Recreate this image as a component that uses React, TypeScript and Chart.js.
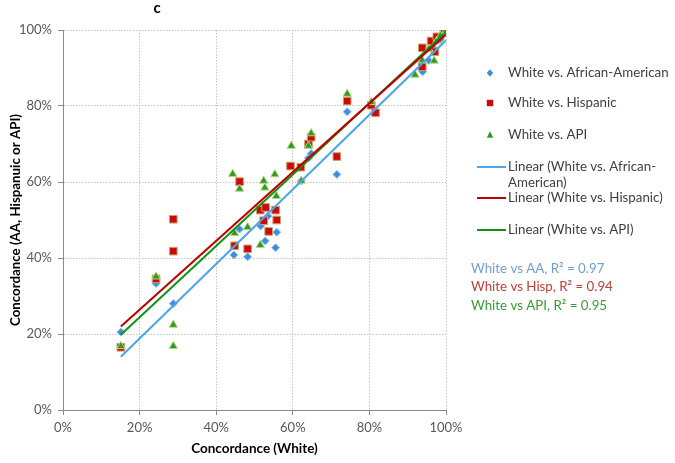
import React, { useEffect, useRef } from "react";
import { Chart, registerables } from "chart.js";
Chart.register(...registerables);

// ---------- data ----------
const chartTitle = "c";
const xAxisTitle = "Concordance (White)";
const yAxisTitle = "Concordance (AA, Hispanuic or API)";

const seriesLabels = ["White vs. African-American", "White vs. Hispanic", "White vs. API"];
const trendLabels = [
  "Linear (White vs. African-American)",
  "Linear (White vs. Hispanic)",
  "Linear (White vs. API)",
];
const rSquaredNotes = ["White vs AA, R\u00B2 = 0.97", "White vs Hisp, R\u00B2 = 0.94", "White vs API, R\u00B2 = 0.95"];

const aaX = [15.1, 24.3, 28.8, 44.6, 46.1, 48.2, 51.6, 52.8, 55.5, 55.8, 53.5, 62.2, 64.1, 64.8, 71.5, 74.2, 80.5, 93.9, 95.5, 97.0, 98.5, 100];
const aaY = [20.5, 33.3, 28.0, 40.8, 47.6, 40.3, 48.4, 44.5, 42.7, 46.8, 51.0, 60.3, 66.3, 67.5, 62.0, 78.5, 80.3, 89.0, 92.0, 95.0, 97.5, 100];

const hispX = [15.1, 24.3, 28.8, 28.8, 44.8, 46.1, 48.2, 51.5, 52.9, 52.4, 53.7, 55.5, 55.8, 59.4, 62.1, 64.1, 64.8, 71.5, 74.2, 80.5, 81.6, 93.8, 93.8, 96.1, 97.1, 97.6, 99.5];
const hispY = [16.5, 34.5, 41.8, 50.2, 43.2, 60.1, 42.4, 52.6, 53.3, 49.8, 47.0, 52.6, 50.0, 64.2, 63.9, 70.0, 71.8, 66.7, 81.3, 80.2, 78.2, 90.3, 95.3, 97.1, 94.3, 98.2, 100];

const apiX = [15.1, 24.3, 28.8, 28.8, 44.3, 44.8, 46.1, 48.2, 51.5, 52.4, 52.7, 55.3, 55.7, 59.6, 62.2, 64.1, 64.8, 74.2, 80.5, 91.9, 93.8, 95.5, 96.9, 97.5, 98.5, 100];
const apiY = [16.8, 35.1, 22.4, 16.8, 62.1, 46.5, 58.2, 48.1, 43.4, 60.3, 58.5, 62.0, 56.3, 69.5, 60.3, 69.5, 72.8, 83.2, 81.0, 88.2, 92.0, 95.0, 91.9, 97.0, 98.5, 100];

// trend line end points
const aaTrendX = [15.1, 100];
const aaTrendY = [14.0, 97.3];
const hispTrendX = [15.1, 100];
const hispTrendY = [22.0, 98.8];
const apiTrendX = [15.1, 100];
const apiTrendY = [19.8, 99.5];

const toPts = (xs: number[], ys: number[]) => xs.map((x, i) => ({ x, y: ys[i] }));

const FONT = "Lato, 'Open Sans', sans-serif";

function wrapText(ctx: CanvasRenderingContext2D, text: string, maxW: number): string[] {
  const tokens = text.match(/[^\s-]+-?\s*|\s+/g) || [text];
  const lines: string[] = [];
  let cur = "";
  for (const t of tokens) {
    if (cur && ctx.measureText((cur + t).trimEnd()).width > maxW) {
      lines.push(cur.trimEnd());
      cur = t;
    } else cur += t;
  }
  if (cur) lines.push(cur.trimEnd());
  return lines;
}

const sideLegend = {
  id: "sideLegend",
  afterDraw(chart: any) {
    const ctx: CanvasRenderingContext2D = chart.ctx;
    const area = chart.chartArea;
    ctx.save();
    // title
    ctx.fillStyle = "#000";
    ctx.font = `bold 15px ${FONT}`;
    ctx.textAlign = "center";
    ctx.textBaseline = "middle";
    ctx.fillText(chartTitle, 157, 8);

    const markX = area.right + 44;
    const textX = area.right + 62;
    const rowY = [73, 103, 135, 167, 198, 230];
    ctx.font = `13.3px ${FONT}`;
    ctx.textAlign = "left";
    chart.data.datasets.forEach((ds: any, i: number) => {
      const y = rowY[i];
      if (!ds.showLine) {
        ctx.fillStyle = ds.backgroundColor;
        const s = 3.2;
        ctx.beginPath();
        if (ds.pointStyle === "rect") {
          ctx.rect(markX - s, y - s, 2 * s, 2 * s);
        } else if (ds.pointStyle === "triangle") {
          ctx.moveTo(markX, y - s - 0.5);
          ctx.lineTo(markX + s, y + s - 0.5);
          ctx.lineTo(markX - s, y + s - 0.5);
          ctx.closePath();
        } else {
          ctx.moveTo(markX, y - s - 0.5);
          ctx.lineTo(markX + s, y);
          ctx.lineTo(markX, y + s + 0.5);
          ctx.lineTo(markX - s, y);
          ctx.closePath();
        }
        ctx.fill();
      } else {
        ctx.strokeStyle = ds.borderColor;
        ctx.lineWidth = 2;
        ctx.beginPath();
        ctx.moveTo(area.right + 31, y);
        ctx.lineTo(area.right + 60, y);
        ctx.stroke();
      }
      ctx.fillStyle = "#404040";
      const lines = wrapText(ctx, ds.label, 167);
      lines.forEach((l, k) => ctx.fillText(l, textX, y + k * 16));
    });

    const noteColors = ["#6f9fd2", "#c0403a", "#3a9a3a"];
    const noteY = [269, 287, 306];
    ctx.font = `13.3px ${FONT}`;
    rSquaredNotes.forEach((t, i) => {
      ctx.fillStyle = noteColors[i];
      ctx.fillText(t, area.right + 25, noteY[i]);
    });
    ctx.restore();
  },
};

export default function App() {
  const ref = useRef<HTMLCanvasElement>(null);
  useEffect(() => {
    document.body.style.margin = "0";
    const canvas = ref.current!;
    const tickFont = { family: FONT, size: 13 };
    const chart = new Chart(canvas, {
      type: "scatter",
      data: {
        datasets: [
          {
            label: seriesLabels[0],
            data: toPts(aaX, aaY),
            pointStyle: "rectRot",
            pointRadius: 4,
            backgroundColor: "#3f8edb",
            borderColor: "#8fc1ee",
            borderWidth: 1,
            order: 3,
          },
          {
            label: seriesLabels[1],
            data: toPts(hispX, hispY),
            pointStyle: "rect",
            pointRadius: 5.4,
            backgroundColor: "#cc0a0a",
            borderColor: "#c9a46a",
            borderWidth: 1,
            order: 2,
          },
          {
            label: seriesLabels[2],
            data: toPts(apiX, apiY),
            pointStyle: "triangle",
            pointRadius: 4.8,
            backgroundColor: "#2e9a2e",
            borderColor: "#b9d77a",
            borderWidth: 1,
            order: 1,
          },
          {
            label: trendLabels[0],
            data: toPts(aaTrendX, aaTrendY),
            showLine: true,
            pointRadius: 0,
            borderColor: "#4aa6ea",
            borderWidth: 2,
            order: 0,
          },
          {
            label: trendLabels[1],
            data: toPts(hispTrendX, hispTrendY),
            showLine: true,
            pointRadius: 0,
            borderColor: "#c00000",
            borderWidth: 2,
            order: 0,
          },
          {
            label: trendLabels[2],
            data: toPts(apiTrendX, apiTrendY),
            showLine: true,
            pointRadius: 0,
            borderColor: "#129212",
            borderWidth: 2,
            order: 0,
          },
        ],
      } as any,
      options: {
        animation: false,
        responsive: false,
        devicePixelRatio: 1,
        layout: { padding: { top: 30, right: 229, left: 0, bottom: 0 } },
        plugins: { legend: { display: false }, tooltip: { enabled: false } },
        scales: {
          x: {
            type: "linear",
            min: 0,
            max: 100,
            afterFit: (s: any) => {
              s.height = 53;
            },
            ticks: {
              stepSize: 20,
              color: "#595959",
              font: tickFont,
              padding: 5,
              maxRotation: 0,
              callback: (v: any) => `${v}%`,
            },
            grid: { color: "#c4c4c4", tickLength: 5, tickColor: "#8a8a8a", lineWidth: 1 },
            border: { display: true, color: "#8a8a8a", dash: [1.5, 1.5] },
            title: {
              display: true,
              text: xAxisTitle,
              color: "#000",
              font: { family: FONT, size: 13.5, weight: "bold" },
              padding: { top: 0, bottom: 6 },
            },
          },
          y: {
            type: "linear",
            min: 0,
            max: 100,
            afterFit: (s: any) => {
              s.width = 63;
            },
            ticks: {
              stepSize: 20,
              color: "#595959",
              font: tickFont,
              padding: 6,
              callback: (v: any) => `${v}%`,
            },
            grid: { color: "#c4c4c4", tickLength: 5, tickColor: "#8a8a8a", lineWidth: 1 },
            border: { display: true, color: "#8a8a8a", dash: [1.5, 1.5] },
            title: {
              display: true,
              text: yAxisTitle,
              color: "#000",
              font: { family: FONT, size: 13.3, weight: "bold" },
              padding: { top: 8, bottom: 0 },
            },
          },
        },
      } as any,
      plugins: [sideLegend],
    });
    (document as any).fonts?.load?.(`12px Lato`).then(() => chart.update()).catch(() => {});
    return () => chart.destroy();
  }, []);
  return (
    <div style={{ width: 675, height: 463 }}>
      <canvas ref={ref} width={675} height={463} style={{ display: "block" }} />
    </div>
  );
}
